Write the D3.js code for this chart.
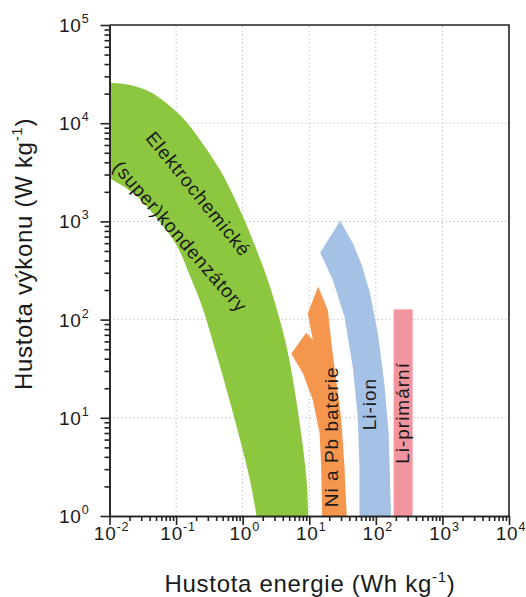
<!DOCTYPE html>
<html>
<head>
<meta charset="utf-8">
<script src="https://cdn.jsdelivr.net/npm/d3@7"></script>
<style>
  body { margin: 0; background: #fff; }
  text { font-family: "Liberation Sans", Arial, sans-serif; fill: #1a1a1a; }
</style>
</head>
<body>
<svg id="chart"></svg>
<script>
const width = 526, height = 597;
const margin = {top: 25, right: 17, bottom: 81, left: 109.5};

// decade exponents on each axis
const xDecades = [-2, -1, 0, 1, 2, 3, 4];
const yDecades = [0, 1, 2, 3, 4, 5];

// regions as [energy Wh/kg, power W/kg]
const capUpper = [[0.01, 25800], [0.0204, 24500], [0.0407, 20800], [0.115, 12100], [0.229, 6750],
  [0.457, 3330], [0.912, 1306], [1.62, 512], [2.57, 216], [4.57, 53], [6.82, 11.2], [9.12, 2.33], [9.64, 1]];
const capLower = [[0.01, 2750], [0.0229, 1930], [0.0514, 1077], [0.1035, 561], [0.162, 278],
  [0.245, 137], [0.372, 53.8], [0.716, 11.2], [1.285, 2.33], [1.62, 1]];

const niPb = [[13.6, 217], [19.0, 125], [21.3, 62], [23.9, 33], [30, 10.3], [33.8, 3.2], [36.6, 1],
  [15.6, 1], [15.1, 3.2], [14.3, 7], [11.3, 15.2], [8.0, 28.6], [5.36, 45], [9.0, 73.6], [11.3, 62], [9.5, 116]];

const liIon = [[29, 1016], [45, 603], [61.5, 360], [81, 191], [107, 73], [134, 22.6], [156, 7], [169, 1],
  [56.8, 1], [56.8, 3.2], [53.5, 10.3], [45, 33], [33.8, 107], [22.6, 253], [14.6, 480]];

const liPrimary = {e0: 185, e1: 357, p0: 1, p1: 127};

// labels anchored in data space
const labels = [
  {text: "Elektrochemické", e: 0.216, p: 1900, angle: 51},
  {text: "(super)kondenzátory", e: 0.115, p: 700, angle: 49},
  {text: "Ni a Pb baterie", e: 21.3, p: 6.4, angle: -90},
  {text: "Li-ion", e: 80, p: 13.8, angle: -90},
  {text: "Li-primární", e: 253, p: 11.2, angle: -90}
];

const svg = d3.select("#chart").attr("width", width).attr("height", height);

const x = d3.scaleLog().domain([1e-2, 1e4]).range([margin.left, width - margin.right]);
const y = d3.scaleLog().domain([1, 1e5]).range([height - margin.bottom, margin.top]);

svg.append("clipPath").attr("id", "plot")
  .append("rect")
  .attr("x", x(1e-2)).attr("y", y(1e5))
  .attr("width", x(1e4) - x(1e-2)).attr("height", y(1) - y(1e5));

// dotted grid
const grid = svg.append("g").attr("stroke", "#c4c4c4").attr("stroke-width", 1).attr("stroke-dasharray", "1.5,2.5");
grid.selectAll(".gx").data(xDecades.slice(1, -1)).enter().append("line")
  .attr("x1", d => x(10 ** d)).attr("x2", d => x(10 ** d))
  .attr("y1", y(1)).attr("y2", y(1e5));
grid.selectAll(".gy").data(yDecades.slice(1, -1)).enter().append("line")
  .attr("y1", d => y(10 ** d)).attr("y2", d => y(10 ** d))
  .attr("x1", x(1e-2)).attr("x2", x(1e4));

const plot = svg.append("g").attr("clip-path", "url(#plot)");

const edge = d3.line().x(d => x(d[0])).y(d => y(d[1])).curve(d3.curveCatmullRom);
const poly = d3.line().x(d => x(d[0])).y(d => y(d[1])).curve(d3.curveLinearClosed);

plot.append("path")
  .attr("d", edge(capUpper) + edge(capLower.slice().reverse()).replace(/^M/, "L") + "Z")
  .attr("fill", "#8dc63f");

plot.append("path").attr("d", poly(niPb)).attr("fill", "#f5964f");
plot.append("path").attr("d", poly(liIon)).attr("fill", "#a5c1e5");

plot.append("rect")
  .attr("x", x(liPrimary.e0)).attr("y", y(liPrimary.p1))
  .attr("width", x(liPrimary.e1) - x(liPrimary.e0))
  .attr("height", y(liPrimary.p0) - y(liPrimary.p1))
  .attr("fill", "#f2959e");

svg.append("g").selectAll("text").data(labels).enter().append("text")
  .attr("transform", d => "translate(" + x(d.e) + "," + y(d.p) + ") rotate(" + d.angle + ")")
  .attr("text-anchor", "middle")
  .attr("dominant-baseline", "central")
  .attr("font-size", 19)
  .attr("letter-spacing", 1)
  .text(d => d.text);

// axes
const minor = [];
for (let d = -2; d < 4; d++) for (let k = 2; k <= 9; k++) minor.push(k * 10 ** d);
const minorY = [];
for (let d = 0; d < 5; d++) for (let k = 2; k <= 9; k++) minorY.push(k * 10 ** d);

const xAxis = svg.append("g").attr("transform", "translate(0," + y(1) + ")");
xAxis.append("g").call(d3.axisBottom(x).tickValues(xDecades.map(d => 10 ** d)).tickSize(9).tickSizeOuter(0).tickFormat(""));
xAxis.append("g").call(d3.axisBottom(x).tickValues(minor).tickSize(5).tickSizeOuter(0).tickFormat(""));

const yAxis = svg.append("g").attr("transform", "translate(" + x(1e-2) + ",0)");
yAxis.append("g").call(d3.axisLeft(y).tickValues(yDecades.map(d => 10 ** d)).tickSize(9).tickSizeOuter(0).tickFormat(""));
yAxis.append("g").call(d3.axisLeft(y).tickValues(minorY).tickSize(5).tickSizeOuter(0).tickFormat(""));

svg.selectAll(".domain, .tick line").attr("stroke", "#222").attr("stroke-width", 1.6);

// frame
svg.append("path")
  .attr("d", "M" + x(1e-2) + "," + y(1e5) + "H" + x(1e4) + "V" + y(1))
  .attr("fill", "none").attr("stroke", "#222").attr("stroke-width", 1.6);

function powerLabel(sel, exp) {
  sel.append("tspan").text("10");
  sel.append("tspan").attr("font-size", 12.5).attr("dy", -9).text(exp);
}

svg.append("g").selectAll("text").data(xDecades).enter().append("text")
  .attr("x", d => x(10 ** d) + 2).attr("y", y(1) + 24)
  .attr("text-anchor", "middle").attr("font-size", 19).attr("letter-spacing", 0.8)
  .each(function(d) { powerLabel(d3.select(this), d); });

svg.append("g").selectAll("text").data(yDecades).enter().append("text")
  .attr("x", x(1e-2) - 20).attr("y", d => y(10 ** d) + 7)
  .attr("text-anchor", "end").attr("font-size", 19).attr("letter-spacing", 0.8)
  .each(function(d) { powerLabel(d3.select(this), d); });

// titles
const xt = svg.append("text")
  .attr("x", 310).attr("y", 592)
  .attr("text-anchor", "middle").attr("font-size", 24).attr("letter-spacing", 0.7);
xt.append("tspan").text("Hustota energie (Wh kg");
xt.append("tspan").attr("font-size", 15).attr("dy", -10).text("-1");
xt.append("tspan").attr("dy", 10).text(")");

const yt = svg.append("text")
  .attr("transform", "translate(32,254) rotate(-90)")
  .attr("text-anchor", "middle").attr("font-size", 24).attr("letter-spacing", 0.7);
yt.append("tspan").text("Hustota výkonu (W kg");
yt.append("tspan").attr("font-size", 15).attr("dy", -10).text("-1");
yt.append("tspan").attr("dy", 10).text(")");
</script>
</body>
</html>
